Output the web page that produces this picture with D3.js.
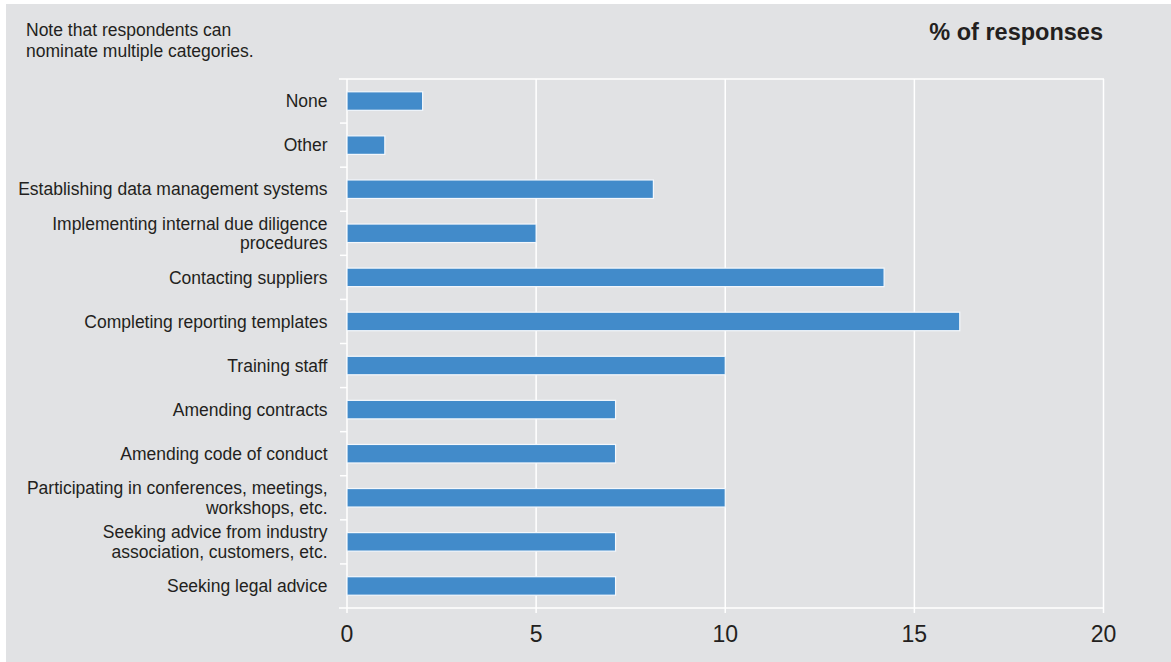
<!DOCTYPE html>
<html>
<head>
<meta charset="utf-8">
<script src="https://cdn.jsdelivr.net/npm/d3@7"></script>
<style>
  html, body { margin: 0; padding: 0; background: #ffffff; }
  svg { display: block; }
  text { font-family: "Liberation Sans", Arial, sans-serif; fill: #231f20; }
</style>
</head>
<body>
<svg id="chart" width="1171" height="662"></svg>
<script>
// ---- data ----
const categories = [
  "None",
  "Other",
  "Establishing data management systems",
  "Implementing internal due diligence\nprocedures",
  "Contacting suppliers",
  "Completing reporting templates",
  "Training staff",
  "Amending contracts",
  "Amending code of conduct",
  "Participating in conferences, meetings,\nworkshops, etc.",
  "Seeking advice from industry\nassociation, customers, etc.",
  "Seeking legal advice"
];
const values = [2.0, 1.0, 8.1, 5.0, 14.2, 16.2, 10.0, 7.1, 7.1, 10.0, 7.1, 7.1];
const xTicks = [0, 5, 10, 15, 20];
const titleText = "% of responses";
const noteLines = ["Note that respondents can", "nominate multiple categories."];

// ---- layout ----
const W = 1171, H = 662;
const plot = { left: 347, right: 1103.5, top: 79, bottom: 608 };
const svg = d3.select("#chart");

svg.append("rect")
  .attr("x", 6).attr("y", 4)
  .attr("width", W - 6).attr("height", H - 4)
  .attr("fill", "#e1e2e4");

const x = d3.scaleLinear().domain([0, 20]).range([plot.left, plot.right]);
const pad = 0.58;
const y = d3.scaleBand().domain(categories)
  .range([plot.top, plot.bottom])
  .paddingInner(pad).paddingOuter(pad / 2);
const step = y.step();

const lineColor = "#ffffff";
const lw = 1.5;

// vertical grid lines
svg.append("g").selectAll("line").data(xTicks.filter(d => d > 0)).join("line")
  .attr("x1", d => x(d)).attr("x2", d => x(d))
  .attr("y1", plot.top).attr("y2", plot.bottom + 5)
  .attr("stroke", lineColor).attr("stroke-width", lw);

// left axis line and zero tick
svg.append("line")
  .attr("x1", x(0)).attr("x2", x(0))
  .attr("y1", plot.top).attr("y2", plot.bottom + 5)
  .attr("stroke", lineColor).attr("stroke-width", lw);

// top and bottom full lines
[plot.top, plot.bottom].forEach(yy => {
  svg.append("line")
    .attr("x1", plot.left - 8).attr("x2", plot.right + 0.5)
    .attr("y1", yy).attr("y2", yy)
    .attr("stroke", lineColor).attr("stroke-width", lw);
});

// band boundary ticks
const boundaries = d3.range(1, categories.length).map(i => plot.top + i * step);
svg.append("g").selectAll("line").data(boundaries).join("line")
  .attr("x1", plot.left - 7).attr("x2", plot.left)
  .attr("y1", d => d).attr("y2", d => d)
  .attr("stroke", lineColor).attr("stroke-width", lw);

// bars
svg.append("g").selectAll("rect").data(categories).join("rect")
  .attr("x", x(0))
  .attr("y", d => y(d))
  .attr("width", (d, i) => x(values[i]) - x(0))
  .attr("height", y.bandwidth())
  .attr("fill", "#428bca")
  .attr("stroke", "#f4f8fc")
  .attr("stroke-width", 1.2);

// category labels
const labFS = 17.5, labLH = 19.5;
const labels = svg.append("g").selectAll("text").data(categories).join("text")
  .attr("text-anchor", "end")
  .attr("font-size", labFS + "px");
labels.each(function(d) {
  const lines = d.split("\n");
  const cy = y(d) + y.bandwidth() / 2;
  const t = d3.select(this);
  lines.forEach((ln, k) => {
    t.append("tspan")
      .attr("x", 327.5)
      .attr("y", cy + (k - (lines.length - 1) / 2) * labLH)
      .attr("dy", "0.35em")
      .text(ln);
  });
});

// x tick labels
svg.append("g").selectAll("text").data(xTicks).join("text")
  .attr("x", d => x(d))
  .attr("y", 641.5)
  .attr("text-anchor", "middle")
  .attr("font-size", "23px")
  .text(d => d);

// title
svg.append("text")
  .attr("x", 1103).attr("y", 40)
  .attr("text-anchor", "end")
  .attr("font-size", "23.5px")
  .attr("font-weight", "bold")
  .text(titleText);

// note
svg.append("g").selectAll("text").data(noteLines).join("text")
  .attr("x", 26)
  .attr("y", (d, i) => 36 + i * 21)
  .attr("font-size", "17.5px")
  .text(d => d);
</script>
</body>
</html>
